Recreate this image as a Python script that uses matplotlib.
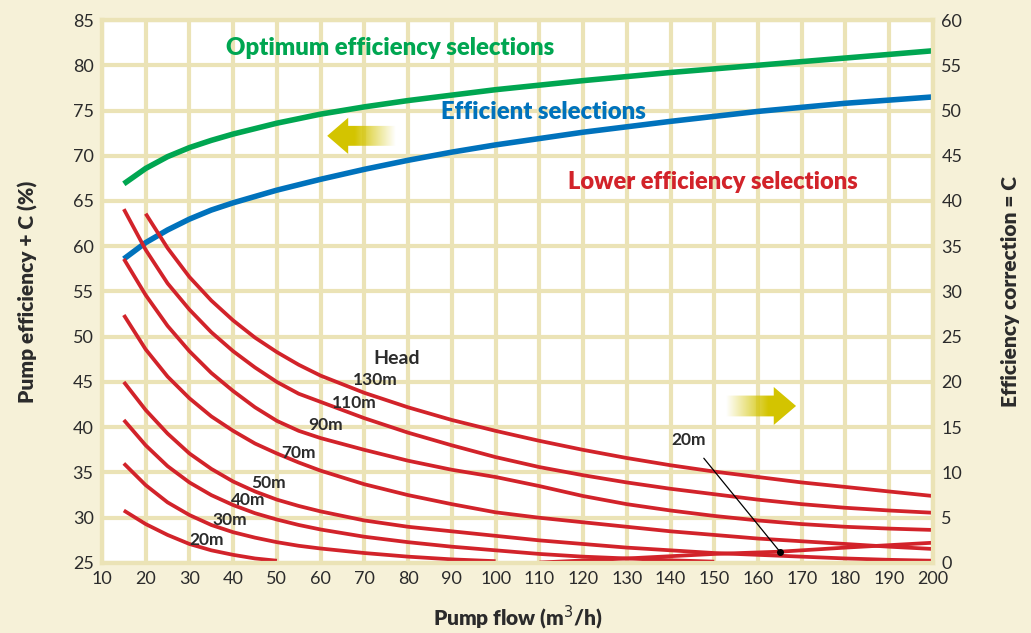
import numpy as np
import matplotlib.pyplot as plt
from matplotlib.patches import Polygon

plt.rcParams['font.family'] = ['Lato', 'DejaVu Sans']

# efficiency lines, left axis (pump efficiency + C, %)
flow_eff = [15, 20, 25, 30, 35, 40, 50, 60, 70, 80, 90, 100, 120, 140, 160, 180, 200]
optimum = [66.9, 68.6, 69.9, 70.9, 71.7, 72.4, 73.6, 74.6, 75.4, 76.1, 76.7, 77.3,
           78.3, 79.2, 80.0, 80.8, 81.6]
efficient = [58.6, 60.4, 61.8, 63.0, 64.0, 64.8, 66.2, 67.4, 68.5, 69.5, 70.4, 71.2,
             72.6, 73.8, 74.9, 75.8, 76.5]

# lower efficiency lines, right axis (efficiency correction C) for each head
flow_130 = [20, 25, 30, 35, 40, 45, 50, 55, 60, 70, 80, 90, 100, 110, 120, 130, 140,
            150, 160, 170, 180, 190, 200]
c_130 = [38.6, 34.8, 31.6, 29.0, 26.8, 24.9, 23.3, 21.9, 20.7, 18.8, 17.2, 15.8, 14.6,
         13.5, 12.5, 11.6, 10.8, 10.1, 9.5, 8.9, 8.4, 7.9, 7.4]
flow_long = [15, 20, 25, 30, 35, 40, 45, 50, 55, 60, 70, 80, 90, 100, 110, 120, 130,
             140, 150, 160, 170, 180, 190, 200]
c_110 = [39.1, 34.6, 30.9, 28.0, 25.5, 23.4, 21.6, 20.0, 18.7, 17.8, 16.0, 14.4, 13.0,
         11.7, 10.6, 9.7, 8.9, 8.2, 7.6, 7.0, 6.5, 6.1, 5.8, 5.55]
c_90 = [33.6, 29.6, 26.2, 23.4, 21.0, 19.0, 17.2, 15.7, 14.6, 13.8, 12.5, 11.3, 10.3,
        9.5, 8.5, 7.4, 6.5, 5.8, 5.2, 4.7, 4.3, 4.0, 3.8, 3.65]
c_70 = [27.4, 23.6, 20.6, 18.2, 16.2, 14.6, 13.2, 12.1, 11.1, 10.2, 8.7, 7.5, 6.5, 5.6,
        5.0, 4.5, 4.0, 3.5, 3.1, 2.7, 2.4, 2.1, 1.8, 1.55]
c_50 = [20.0, 16.9, 14.3, 12.1, 10.4, 9.0, 7.9, 7.0, 6.3, 5.7, 4.7, 4.0, 3.5, 3.0, 2.5,
        2.1, 1.7, 1.4, 1.1, 0.9, 0.7, 0.5, 0.35, 0.25]
flow_40 = [15, 20, 25, 30, 35, 40, 45, 50, 55, 60, 70, 80, 90, 100, 110, 120, 130, 140, 150]
c_40 = [15.8, 13.0, 10.7, 8.9, 7.5, 6.4, 5.5, 4.8, 4.2, 3.7, 2.9, 2.3, 1.8, 1.4, 1.0,
        0.7, 0.5, 0.3, 0.15]
flow_30 = [15, 20, 25, 30, 35, 40, 45, 50, 55, 60, 70, 80, 90, 100]
c_30 = [11.0, 8.6, 6.7, 5.3, 4.2, 3.4, 2.8, 2.3, 1.9, 1.6, 1.1, 0.7, 0.4, 0.2]
flow_20 = [15, 20, 25, 30, 35, 40, 45, 50]
c_20 = [5.8, 4.3, 3.1, 2.1, 1.4, 0.9, 0.5, 0.25]
flow_20b = [110, 130, 150, 165, 180, 200]
c_20b = [0.05, 0.5, 1.0, 1.25, 1.7, 2.24]

red_lines = [(flow_130, c_130), (flow_long, c_110), (flow_long, c_90), (flow_long, c_70),
             (flow_long, c_50), (flow_40, c_40), (flow_30, c_30), (flow_20, c_20),
             (flow_20b, c_20b)]

head_labels = ["130m", "110m", "90m", "70m", "50m", "40m", "30m", "20m"]
head_label_x = [72.5, 67.7, 61.1, 54.9, 48.0, 43.4, 39.3, 34.0]
head_label_c = [20.2, 17.7, 15.25, 12.15, 8.8, 6.96, 4.75, 2.5]

bg = '#f6f1d8'
grid_col = '#ebe3b6'
green = '#00a651'
blue = '#0072bc'
red = '#d2232a'
txt = '#2b2b2b'

fig = plt.figure(figsize=(10.31, 6.33), dpi=100, facecolor=bg)
ax = fig.add_axes([0.0989, 0.1106, 0.8060, 0.8578])
ax2 = ax.twinx()

ax.set_facecolor('white')
ax.set_xticks(np.arange(10, 201, 10))
ax.set_yticks(np.arange(25, 86, 5))
ax2.set_yticks(np.arange(0, 61, 5))
ax.grid(True, color=grid_col, linewidth=3)
ax.set_axisbelow(True)
for a in (ax, ax2):
    for s in a.spines.values():
        s.set_color(grid_col)
        s.set_linewidth(3)
    a.tick_params(length=0, labelsize=13, colors=txt, pad=6)

ax.plot(flow_eff, optimum, color=green, lw=4, solid_capstyle='butt', zorder=3)
ax.plot(flow_eff, efficient, color=blue, lw=4, solid_capstyle='butt', zorder=3)
for fx, cy in red_lines:
    ax2.plot(fx, cy, color=red, lw=2.7, solid_capstyle='butt', zorder=2)

ax.text(38.4, 81.9, "Optimum efficiency selections", color=green, fontsize=17.2,
        fontweight='heavy', va='center')
ax.text(87.6, 74.8, "Efficient selections", color=blue, fontsize=17.2,
        fontweight='heavy', va='center')
ax2.text(116.5, 42.1, "Lower efficiency selections", color=red, fontsize=17,
         fontweight='heavy', va='center')
ax2.text(77.5, 22.65, "Head", color=txt, fontsize=14, fontweight='bold',
         ha='center', va='center')
for lab, lx, lc in zip(head_labels, head_label_x, head_label_c):
    ax2.text(lx, lc, lab, color=txt, fontsize=12.5, fontweight='bold', ha='center', va='center')

# label for the rising 20m line
ax2.plot(165, 1.25, 'o', color='black', ms=4, zorder=4)
ax2.annotate("20m", xy=(165, 1.25), xytext=(144.2, 13.6), color=txt, fontsize=12.5,
             fontweight='bold', ha='center', va='center',
             arrowprops=dict(arrowstyle='-', color='black', lw=0.9, shrinkA=7, shrinkB=0))

ax.set_xlabel("Pump flow (m$^3$/h)", fontsize=15, fontweight='heavy', color=txt, labelpad=12)
ax.set_ylabel("Pump efficiency + C (%)", fontsize=15, fontweight='heavy', color=txt,
              labelpad=25)
ax2.set_ylabel("Efficiency correction = C", fontsize=15, fontweight='heavy', color=txt,
               labelpad=28)


def gradient_arrow(a, tip_x, base_x, tail_x, yc, head_h, shaft_h, point_left):
    pts = [(tip_x, yc), (base_x, yc + head_h), (base_x, yc + shaft_h), (tail_x, yc + shaft_h),
           (tail_x, yc - shaft_h), (base_x, yc - shaft_h), (base_x, yc - head_h)]
    poly = Polygon(pts, closed=True, facecolor='none', edgecolor='none')
    a.add_patch(poly)
    n = 200
    alpha = np.ones(n)
    ramp = int(n * 0.6)
    if point_left:
        alpha[n - ramp:] = np.linspace(1, 0, ramp)
    else:
        alpha[:ramp] = np.linspace(0, 1, ramp)
    img = np.zeros((2, n, 4))
    img[..., 0] = 0.83
    img[..., 1] = 0.77
    img[..., 2] = 0.0
    img[..., 3] = alpha
    x0, x1 = min(tip_x, tail_x), max(tip_x, tail_x)
    im = a.imshow(img, extent=[x0, x1, yc - head_h, yc + head_h], aspect='auto',
                  zorder=4, interpolation='bilinear')
    im.set_clip_path(poly)


gradient_arrow(ax, 61.5, 66.3, 77.1, 72.2, 2.0, 1.1, True)
gradient_arrow(ax, 168.7, 163.6, 152.6, 42.35, 2.1, 1.15, False)
ax.set_xlim(10, 200)
ax.set_ylim(25, 85)
ax2.set_ylim(0, 60)

fig.savefig("out.png", dpi=100, facecolor=bg)
